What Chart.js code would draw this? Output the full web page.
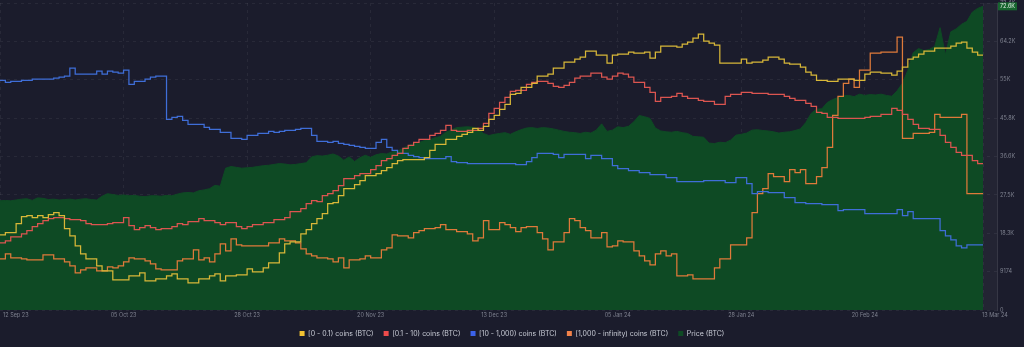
<!DOCTYPE html>
<html><head><meta charset="utf-8">
<script src="https://cdn.jsdelivr.net/npm/chart.js@4.4.1/dist/chart.umd.min.js"></script>
<style>html,body{margin:0;padding:0;background:#1b1c2c;overflow:hidden}#wrap{width:1024px;height:347px;position:relative}</style>
</head><body><div id="wrap"><canvas id="c" width="1024" height="347"></canvas></div>
<script>
// ---- categories: day index since 12 Sep 2023 (daily, 184 days) ----
const START_DATE = '2023-09-12';
const dayIndex = Array.from({length:184}, (_, i) => i);

// ---- x tick labels ----
const xTickDays   = [0, 23, 46, 69, 92, 115, 138, 161, 183];
const xTickLabels = ['12 Sep 23','05 Oct 23','28 Oct 23','20 Nov 23','13 Dec 23','05 Jan 24','28 Jan 24','20 Feb 24','13 Mar 24'];

// ---- price axis ticks ----
const yTickValues = [0, 9174, 18348, 27522, 36696, 45870, 55044, 64218, 73392];
const yTickLabels = ['0','9174','18.3K','27.5K','36.6K','45.8K','55K','64.2K','73.4K'];

// ---- series (coin distribution series are relative index levels, price in USD) ----
const coins_0_01 = [75,75,77,77,86,93,94,92,94,92,95,97,94,81,74,64,56,51,51,44,39,39,30,30,30,34,34,37,29,29,31,
31,34,36,31,31,27,27,31,31,34,36,29,34,34,35,35,41,38,38,42,47,47,57,66,68,68,76,80,86,91,96,106,
107,114,121,121,125,129,134,134,136,139,142,146,149,150,150,150,150,152,159,165,165,170,170,173,175,177,181,179,183,190,
194,200,205,215,216,222,222,226,233,233,235,241,241,247,247,250,252,258,258,254,254,246,254,255,255,257,256,256,257,251,257,
263,263,263,262,265,267,271,275,268,266,264,246,246,246,246,250,246,247,247,249,252,252,250,246,245,245,242,237,234,229,
229,228,228,230,230,230,229,229,235,237,237,236,236,234,238,242,250,252,255,258,258,261,261,261,263,266,267,261,257,254];

const coins_01_10 = [67,67,69,73,73,76,79,83,86,89,91,92,92,91,90,90,89,86,85,85,85,86,87,87,92,84,80,82,84,82,80,
81,81,83,86,85,88,88,91,89,89,87,85,87,87,83,81,83,85,85,87,87,90,90,92,98,98,101,106,109,108,114,
116,119,124,131,131,134,136,136,140,144,149,151,154,156,161,164,167,170,170,174,176,179,184,179,178,178,179,179,181,186,196,
201,207,212,218,219,219,225,227,228,228,226,223,222,224,227,231,233,233,236,236,232,230,233,236,235,232,227,227,222,217,208,
212,212,213,216,213,211,211,209,208,208,205,205,213,215,215,217,217,216,216,216,215,215,215,213,211,209,209,206,203,197,
196,192,192,191,191,191,191,191,192,193,193,195,195,201,199,195,190,185,181,181,180,180,174,167,162,157,154,154,149,146];

const coins_10_1000 = [229,229,227,228,228,229,229,230,230,230,230,231,232,233,241,235,235,235,235,238,235,238,237,236,239,225,228,228,230,232,233,
233,190,192,193,189,185,185,185,182,180,180,177,177,171,171,170,174,174,176,176,178,177,178,179,179,180,181,181,174,168,168,
167,168,166,165,164,163,162,161,161,167,170,162,159,156,156,154,153,152,151,151,151,151,153,148,147,147,146,146,146,146,146,
146,146,146,146,145,145,148,152,156,156,156,155,152,155,155,155,155,151,154,154,151,151,144,141,141,139,139,137,137,135,135,
135,132,132,128,128,128,128,128,129,129,129,129,127,127,132,132,126,116,118,118,117,117,117,112,112,107,107,106,106,106,
105,105,105,99,100,100,100,100,96,96,96,96,96,96,100,94,98,91,91,91,91,91,79,74,70,64,62,65,65,65];

const coins_1000_inf = [51,51,56,52,52,51,50,50,50,55,55,51,51,48,44,37,40,42,42,39,39,43,42,44,48,52,51,51,49,46,41,
40,40,40,49,51,51,60,50,52,48,56,66,59,71,65,64,64,64,64,64,67,67,71,69,69,67,61,56,54,52,52,
51,48,52,42,50,50,51,54,52,52,60,62,75,74,74,72,77,79,81,81,82,85,80,80,78,78,76,69,72,89,80,
80,87,85,82,78,82,83,83,77,71,60,68,68,77,91,89,82,79,72,72,77,63,64,69,68,68,59,54,49,45,56,
59,54,56,34,34,35,31,31,31,31,42,51,51,65,65,65,72,97,116,121,136,133,133,128,140,137,140,126,126,133,
142,162,194,213,226,230,222,239,239,256,256,257,257,257,272,171,171,176,176,176,177,195,192,192,192,192,195,116,116,116];

const priceUSD = [26100,26200,26100,26300,26500,26600,26200,26800,26700,26400,
26500,26300,26400,26500,26300,26500,26600,26400,26300,27200,
27800,27600,27400,27500,27300,27400,27200,27100,27300,27300,
27200,27400,27300,27700,28000,28100,28000,28500,28700,29000,
29800,29600,33900,34300,34100,33900,34000,34100,34300,34500,
34600,34800,35000,34900,34700,34800,35000,35200,36600,36900,
36800,37000,37300,36800,35800,36600,35500,36400,37000,36500,
37100,37400,37300,37800,38000,38600,39300,39800,40000,40500,
40700,41200,41500,42500,43000,43600,43700,43800,43700,43300,
42200,41700,42000,42200,42400,42000,42600,43100,43500,43600,
43400,43600,43500,43300,43000,42700,42500,42400,42200,42500,
42300,43000,44500,42700,43000,43800,43600,43900,45000,46500,
46200,45800,43500,42800,42600,42500,42700,42400,42200,41500,
41400,41300,39900,39800,40100,40000,40600,41800,42000,42300,
43000,43100,42900,42800,42600,42300,42500,42600,42900,43300,
44800,47000,48000,48100,49600,50300,50800,51200,51300,51000,
51600,51300,51500,51400,51600,51300,51100,52400,54200,57300,
61500,62500,62000,62300,63000,67500,61000,66500,67200,68300,
69000,71200,72100,72600];

const FONT = 'Inter, "Noto Sans", Roboto, sans-serif';
const BG = '#1b1c2c';

const lineDs = (label, data, color, box) => ({
  label, data, borderColor: color, backgroundColor: box, borderWidth: 1.25,
  pointRadius: 0, stepped: 'after', fill: false, yAxisID: 'yRel', order: 1
});

const extras = {
  id: 'extras',
  beforeDraw(chart) {
    const {ctx, width, height} = chart;
    ctx.save(); ctx.fillStyle = BG; ctx.fillRect(0, 0, width, height); ctx.restore();
  },
  beforeDatasetsDraw(chart) {
    const {ctx, chartArea, scales} = chart;
    const xEnd = scales.x.getPixelForValue(dayIndex[dayIndex.length - 1]);
    ctx.save();
    ctx.fillStyle = 'rgba(255,255,255,0.035)';
    ctx.fillRect(xEnd, chartArea.top, chartArea.right - xEnd, chartArea.bottom - chartArea.top);
    ctx.restore();
  },
  afterDraw(chart) {
    const {ctx, chartArea, scales} = chart;
    ctx.save();
    ctx.font = '5.5px ' + FONT;
    ctx.fillStyle = '#7e818f';
    ctx.textBaseline = 'middle';
    xTickDays.forEach((d, i) => {
      const px = scales.x.getPixelForValue(d);
      let x = px;
      if (i === 0) { ctx.textAlign = 'left'; x = px + 3; }
      else if (i === xTickDays.length - 1) { ctx.textAlign = 'left'; x = px - 1; }
      else ctx.textAlign = 'center';
      ctx.fillText(xTickLabels[i], x, chartArea.bottom + 5);
    });
    // last price badge
    const last = priceUSD[priceUSD.length - 1];
    const py = scales.y.getPixelForValue(last);
    const bx = chartArea.right + 1, bw = 19, bh = 8;
    ctx.fillStyle = '#17652f';
    ctx.fillRect(bx, py - bh / 2, bw, bh);
    ctx.fillStyle = '#e6efe8';
    ctx.textAlign = 'center';
    ctx.font = '5.5px ' + FONT;
    ctx.fillText((last / 1000).toFixed(1) + 'K', bx + bw / 2, py + 0.5);
    ctx.restore();
  }
};

new Chart(document.getElementById('c'), {
  type: 'line',
  data: {
    labels: dayIndex,
    datasets: [
      lineDs('[0 - 0.1) coins (BTC)', coins_0_01, '#d8b738', '#f2c232'),
      lineDs('[0.1 - 10) coins (BTC)', coins_01_10, '#dc5550', '#ee4b4b'),
      lineDs('[10 - 1,000) coins (BTC)', coins_10_1000, '#3f6ed8', '#3b62ea'),
      lineDs('[1,000 - infinity) coins (BTC)', coins_1000_inf, '#df7a3a', '#f2824a'),
      {
        label: 'Price (BTC)', data: priceUSD, borderColor: '#0e4a24', backgroundColor: '#0e4a24',
        borderWidth: 1, pointRadius: 0, fill: 'origin', yAxisID: 'y', order: 10, tension: 0
      }
    ]
  },
  options: {
    responsive: false, animation: false, devicePixelRatio: 1,
    layout: { padding: { top: 3, left: 0, right: 0, bottom: 0 } },
    plugins: {
      tooltip: { enabled: false },
      legend: {
        position: 'bottom',
        labels: {
          boxWidth: 5, boxHeight: 5, padding: 10, color: '#c9ccd6',
          font: { size: 7, family: FONT },
          generateLabels(chart) {
            const items = Chart.defaults.plugins.legend.labels.generateLabels(chart);
            items.forEach(it => { it.lineWidth = 0; it.strokeStyle = 'transparent'; });
            return items;
          }
        }
      }
    },
    scales: {
      x: {
        type: 'linear', min: 0, max: 185.6,
        afterBuildTicks: s => { s.ticks = xTickDays.map(v => ({ value: v })); },
        ticks: { display: false },
        grid: { color: 'rgba(255,255,255,0.06)', drawTicks: false },
        border: { display: false, dash: [3, 4] },
        afterFit: s => { s.height = 10; }
      },
      y: {
        type: 'linear', position: 'right', min: 0, max: 73392,
        afterBuildTicks: s => { s.ticks = yTickValues.map(v => ({ value: v })); },
        ticks: { callback: (v, i) => yTickLabels[i], color: '#7e818f', font: { size: 5.5, family: FONT }, padding: 3 },
        grid: { color: 'rgba(255,255,255,0.06)', drawTicks: false },
        border: { display: true, color: 'rgba(255,255,255,0.12)', dash: [3, 4] },
        afterFit: s => { s.width = 27; s.paddingTop = 0; s.paddingBottom = 0; }
      },
      yRel: { type: 'linear', axis: 'y', position: 'left', display: false, min: 0, max: 306 }
    }
  },
  plugins: [extras]
});
</script>
</body></html>
